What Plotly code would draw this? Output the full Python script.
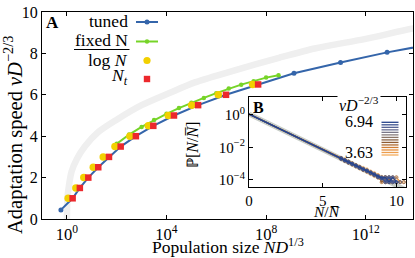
import plotly.graph_objects as go

# ---------------- Panel A data ----------------
gray_logN = [0.0, 0.02, 0.08, 0.19, 0.40, 0.72, 1.26, 2.0, 3.0, 4.14, 5.14, 6.5, 8.55, 10.0, 12.0, 13.9, 15.0]
gray_v = [0.0, 1.0, 1.6, 2.3, 2.9, 3.5, 4.2, 4.8, 5.5, 6.1, 6.6, 7.1, 7.8, 8.25, 8.7, 9.2, 9.4]

tuned_logN = [-0.24, 0.23, 0.52, 0.86, 1.26, 1.69, 2.16, 2.77, 3.47, 4.30, 5.27, 6.39, 7.68, 9.12, 10.99, 12.86, 14.9]
tuned_v = [0.44, 1.0, 1.5, 2.0, 2.5, 3.0, 3.5, 4.0, 4.5, 5.0, 5.5, 6.0, 6.5, 7.04, 7.56, 8.05, 8.5]

fixed_logN = [2.0, 2.5, 3.0, 3.5, 4.0, 4.5, 5.0, 5.5, 6.0, 6.5, 7.0, 7.5, 8.0, 8.5]
fixed_v = [3.63, 4.08, 4.45, 4.78, 5.08, 5.36, 5.62, 5.85, 6.08, 6.30, 6.49, 6.66, 6.83, 6.94]

logbar_logN = [0.05, 0.36, 0.68, 1.06, 1.46, 1.93, 2.53, 3.27, 4.07, 5.01, 6.08, 7.46]
logbar_v = [1.0, 1.5, 2.0, 2.5, 3.0, 3.5, 4.0, 4.5, 5.0, 5.5, 6.0, 6.5]

Nt_logN = [0.23, 0.52, 0.86, 1.26, 1.69, 2.16, 2.77, 3.47, 4.30, 5.27, 6.39, 7.68]
Nt_v = [1.0, 1.5, 2.0, 2.5, 3.0, 3.5, 4.0, 4.5, 5.0, 5.5, 6.0, 6.5]

main_tick_exps = [0, 4, 8, 12]
main_yticks = [0, 2, 4, 6, 8, 10]

# ---------------- Panel B data (inset) ----------------
inset_head_x = [0.0, 0.5, 1.0, 1.5, 2.0, 2.5, 3.0, 3.5, 4.0, 4.5, 5.0, 5.5, 6.0]
inset_head_log10P = [0.05, -0.17, -0.39, -0.61, -0.83, -1.05, -1.27, -1.49, -1.71, -1.93, -2.15, -2.37, -2.59]
inset_tail_x = [6.25, 6.5, 6.75, 7.0, 7.25, 7.5, 7.75, 8.0, 8.25, 8.5, 8.75, 9.0, 9.25, 9.5, 9.75, 10.0, 10.25, 10.5]
inset_tail_log10P = [
    [-2.74, -2.76, -2.97, -2.99, -3.20, -3.18, -3.42, -3.35, -3.66, -3.58, -3.85, -3.82, -4.15, -3.85, -4.15, -3.85, -4.15, -4.15],
    [-2.65, -2.86, -2.87, -3.08, -3.09, -3.31, -3.27, -3.53, -3.49, -3.78, -3.70, -4.15, -3.85, -4.15, -4.15, -3.85, -4.15, None],
    [-2.71, -2.80, -2.94, -3.00, -3.17, -3.22, -3.39, -3.41, -3.62, -3.63, -3.84, -3.97, -3.85, -4.15, -3.85, -4.15, None, -4.15],
    [-2.68, -2.83, -2.89, -3.05, -3.10, -3.28, -3.32, -3.49, -3.55, -3.71, -3.74, -3.85, -4.15, -4.15, -3.85, None, -4.15, None],
    [-2.72, -2.77, -2.95, -2.98, -3.15, -3.25, -3.37, -3.43, -3.59, -3.65, -3.88, -3.90, -3.85, -4.15, -4.15, -4.15, None, -4.15],
    [-2.66, -2.84, -2.88, -3.06, -3.14, -3.21, -3.40, -3.46, -3.52, -3.73, -3.76, -4.15, -3.97, -3.85, -4.15, None, -4.15, None],
    [-2.70, -2.79, -2.93, -3.02, -3.12, -3.27, -3.34, -3.48, -3.57, -3.66, -3.83, -3.86, -4.15, -3.97, -4.15, -4.15, None, None],
    [-2.69, -2.82, -2.91, -3.04, -3.16, -3.23, -3.38, -3.44, -3.60, -3.69, -3.79, -3.93, -3.85, -4.15, None, -4.15, -4.15, None],
    [-2.73, -2.78, -2.96, -3.01, -3.11, -3.29, -3.33, -3.50, -3.54, -3.72, -3.81, -3.85, -4.15, -3.85, -4.15, None, None, -4.15],
    [-2.67, -2.81, -2.90, -3.03, -3.18, -3.24, -3.36, -3.45, -3.61, -3.64, -3.86, -3.97, -3.85, -4.15, -4.15, -3.85, None, None],
    [-2.70, -2.83, -2.92, -3.00, -3.13, -3.26, -3.39, -3.42, -3.56, -3.70, -3.77, -3.85, -4.15, -4.15, -3.85, -4.15, None, None],
    [-2.71, -2.79, -2.94, -3.05, -3.15, -3.22, -3.35, -3.47, -3.58, -3.67, -3.84, -3.91, -3.97, -3.85, -4.15, None, -4.15, None],
    [-2.68, -2.82, -2.90, -3.02, -3.14, -3.27, -3.37, -3.44, -3.59, -3.71, -3.80, -3.88, -4.15, -3.85, -4.15, -4.15, None, None],
    [-2.70, -2.80, -2.93, -3.03, -3.12, -3.25, -3.36, -3.46, -3.57, -3.68, -3.82, -3.90, -3.85, -4.15, -3.85, -4.15, None, None],
]
inset_v_labels = ["6.94", "3.63"]
inset_theory_x = [0.0, 10.65]
inset_theory_log10P = [0.05, -4.64]

# ---------------- styling / geometry ----------------
FONT = "Liberation Serif"
W, H = 415, 258
L, R, T, B = 42, 413, 12, 219

def px(x):
    return (x - L) / (R - L)

def py(y):
    return (B - y) / (B - T)

BLUE = "rgb(52,101,170)"
GREEN = "rgb(118,212,40)"
YELLOW = "rgb(242,208,0)"
RED = "rgb(236,40,44)"
GRAY = "rgb(239,239,239)"

stops = [(0.0, (245, 172, 92)), (0.2, (222, 132, 52)), (0.4, (135, 88, 50)),
         (0.6, (140, 128, 125)), (0.8, (100, 108, 150)), (1.0, (38, 68, 140))]

def cmap(t):
    for (t0, c0), (t1, c1) in zip(stops[:-1], stops[1:]):
        if t0 <= t <= t1:
            f = (t - t0) / (t1 - t0)
            return "rgb(%d,%d,%d)" % tuple(round(a + (b - a) * f) for a, b in zip(c0, c1))
    return "rgb(%d,%d,%d)" % stops[-1][1]

n_series = len(inset_tail_log10P)
series_colors = [cmap(i / (n_series - 1)) for i in range(n_series)]

fig = go.Figure()

# ---- Panel A traces ----
fig.add_trace(go.Scatter(x=[10 ** v for v in gray_logN], y=gray_v, mode="lines",
                         line=dict(color=GRAY, width=6.5, shape="spline", smoothing=0.8),
                         hoverinfo="skip", showlegend=False))
fig.add_trace(go.Scatter(x=[10 ** v for v in tuned_logN], y=tuned_v, mode="lines+markers",
                         line=dict(color=BLUE, width=2), marker=dict(color=BLUE, size=5),
                         name="tuned", showlegend=False))
fig.add_trace(go.Scatter(x=[10 ** v for v in fixed_logN], y=fixed_v, mode="lines+markers",
                         line=dict(color=GREEN, width=2), marker=dict(color=GREEN, size=4.5),
                         name="fixed N", showlegend=False))
fig.add_trace(go.Scatter(x=[10 ** v for v in logbar_logN], y=logbar_v, mode="markers",
                         marker=dict(color=YELLOW, size=7.5, line=dict(width=0)),
                         name="log N", showlegend=False))
fig.add_trace(go.Scatter(x=[10 ** v for v in Nt_logN], y=Nt_v, mode="markers",
                         marker=dict(color=RED, size=6.5, symbol="square", line=dict(width=0)),
                         name="N_t", showlegend=False))

# ---- Panel B traces ----
fig.add_trace(go.Scatter(x=inset_theory_x, y=[10 ** v for v in inset_theory_log10P], mode="lines",
                         line=dict(color="rgb(200,206,200)", width=5), xaxis="x2", yaxis="y2",
                         hoverinfo="skip", showlegend=False))
for i in range(n_series):
    ys = [10 ** v for v in inset_head_log10P] + [None if v is None else 10 ** v for v in inset_tail_log10P[i]]
    xs = inset_head_x + inset_tail_x
    sizes = [0] * len(inset_head_x) + [3] * len(inset_tail_x)
    fig.add_trace(go.Scatter(x=xs, y=ys, mode="lines+markers", xaxis="x2", yaxis="y2",
                             line=dict(color=series_colors[i], width=1.1),
                             marker=dict(size=sizes, symbol="circle-open", color=series_colors[i],
                                         line=dict(width=0.8, color=series_colors[i])),
                             connectgaps=False, showlegend=False))

axis_common = dict(showline=True, linecolor="black", linewidth=1, mirror="ticks",
                   ticks="inside", tickcolor="black", showgrid=False, zeroline=False)

fig.update_layout(
    width=W, height=H,
    margin=dict(l=L, r=W - R, t=T, b=H - B),
    paper_bgcolor="white", plot_bgcolor="white",
    font=dict(family=FONT, color="black", size=16),
    xaxis=dict(type="log", range=[-1.0, 13.9], tickvals=[10 ** e for e in main_tick_exps],
               ticktext=["10<sup>%d</sup>" % e for e in main_tick_exps], ticklen=4,
               tickfont=dict(size=16.5), **axis_common),
    yaxis=dict(range=[0, 10], tickvals=main_yticks, ticklen=4, tickfont=dict(size=16), **axis_common),
    xaxis2=dict(domain=[px(249), px(406)], anchor="y2", range=[0, 10.65], tickvals=[0, 5, 10],
                ticklen=4, tickfont=dict(size=15), **axis_common),
    yaxis2=dict(domain=[py(187), py(97)], anchor="x2", type="log", range=[-4.45, 1.1],
                tickvals=[1, 1e-2, 1e-4], ticktext=["10<sup>0</sup>", "10<sup>\u22122</sup>", "10<sup>\u22124</sup>"],
                ticklen=4, tickfont=dict(size=15), **axis_common),
)

shapes = []
# white background of inset
shapes.append(dict(type="rect", xref="paper", yref="paper", x0=px(249), x1=px(406), y0=py(187), y1=py(97),
                   fillcolor="white", line=dict(width=0), layer="below"))
# manual legend keys for panel A
lx0, lx1, lxc = 136, 158, 147
shapes.append(dict(type="line", xref="paper", yref="paper", x0=px(lx0), x1=px(lx1), y0=py(22), y1=py(22),
                   line=dict(color=BLUE, width=2)))
shapes.append(dict(type="circle", xref="paper", yref="paper", x0=px(lxc - 2.5), x1=px(lxc + 2.5),
                   y0=py(22 + 2.5), y1=py(22 - 2.5), fillcolor=BLUE, line=dict(width=0)))
shapes.append(dict(type="line", xref="paper", yref="paper", x0=px(lx0), x1=px(lx1), y0=py(41.5), y1=py(41.5),
                   line=dict(color=GREEN, width=2)))
shapes.append(dict(type="circle", xref="paper", yref="paper", x0=px(lxc - 2.2), x1=px(lxc + 2.2),
                   y0=py(41.5 + 2.2), y1=py(41.5 - 2.2), fillcolor=GREEN, line=dict(width=0)))
shapes.append(dict(type="circle", xref="paper", yref="paper", x0=px(lxc - 3.6), x1=px(lxc + 3.6),
                   y0=py(60.5 + 3.6), y1=py(60.5 - 3.6), fillcolor=YELLOW, line=dict(width=0)))
shapes.append(dict(type="rect", xref="paper", yref="paper", x0=px(lxc - 3.2), x1=px(lxc + 3.2),
                   y0=py(79 + 3.2), y1=py(79 - 3.2), fillcolor=RED, line=dict(width=0)))
# overline of log N label
shapes.append(dict(type="line", xref="paper", yref="paper", x0=px(74), x1=px(129.5), y0=py(49.5), y1=py(49.5),
                   line=dict(color="black", width=1)))
# colour key of inset
n = n_series
for i in range(n):
    yy = 122.3 + (155 - 122.3) * (n - 1 - i) / (n - 1)
    shapes.append(dict(type="line", xref="paper", yref="paper", x0=px(381.5), x1=px(398.5), y0=py(yy), y1=py(yy),
                       line=dict(color=series_colors[i], width=1.3)))
fig.update_layout(shapes=shapes)

def ann(x, y, text, size=17, xanchor="center", yanchor="middle", angle=0, bg=None):
    d = dict(x=px(x), y=py(y), xref="paper", yref="paper", text=text, showarrow=False,
             font=dict(family=FONT, size=size, color="black"), xanchor=xanchor, yanchor=yanchor,
             textangle=angle)
    if bg:
        d["bgcolor"] = bg
    return d

annotations = [
    ann(13, 135, "Adaptation speed <i>vD</i><sup>\u22122/3</sup>", size=20.5, angle=-90),
    ann(228, 246.5, "Population size <i>ND</i><sup>1/3</sup>", size=17.5),
    ann(52, 22, "<b>A</b>", size=17),
    ann(130, 21, "tuned", size=17.5, xanchor="right"),
    ann(130, 40, "fixed N", size=17.5, xanchor="right"),
    ann(130, 60, "log <i>N</i>", size=17.5, xanchor="right"),
    ann(130, 77, "<i>N</i><sub><i>t</i></sub>", size=17.5, xanchor="right"),
    ann(258, 108, "<b>B</b>", size=16),
    ann(359, 104, "<i>vD</i><sup>\u22122/3</sup>", size=16, bg="white"),
    ann(359, 121.5, inset_v_labels[0], size=16),
    ann(359, 152, inset_v_labels[1], size=16),
    ann(327, 211, "<i>N</i>/<i>N\u0305</i>", size=15.5),
    ann(192, 145, "\u2119[<i>N</i>/<i>N\u0305</i>]", size=16, angle=-90),
]
fig.update_layout(annotations=annotations)

fig.write_html("out.html", config={"displayModeBar": False},
               post_script="document.body.style.margin='0';")
